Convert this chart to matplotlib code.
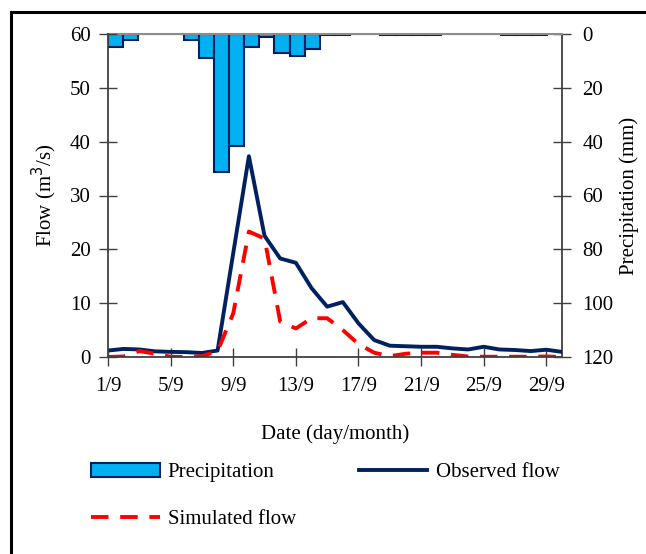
import numpy as np
import matplotlib.pyplot as plt
from matplotlib.patches import Rectangle

plt.rcParams['font.family'] = ['Liberation Serif', 'DejaVu Serif']

days = np.arange(1, 31)
tick_days = [1, 5, 9, 13, 17, 21, 25, 29]
tick_labels = ['1/9', '5/9', '9/9', '13/9', '17/9', '21/9', '25/9', '29/9']

precip = [4.7, 2.2, 0, 0, 0, 2.2, 8.8, 51.2, 41.5, 4.8,
          1.0, 7.2, 8.1, 5.7, 0.5, 0.3, 0, 0, 0.5, 0.2,
          0.5, 0.3, 0, 0, 0, 0, 0.2, 0.4, 0.3, 0]
observed = [1.2, 1.5, 1.4, 1.05, 0.95, 0.9, 0.75, 1.2, 19.3, 37.3,
            22.5, 18.3, 17.5, 12.8, 9.35, 10.2, 6.25, 3.15, 2.1, 2.0,
            1.9, 1.9, 1.6, 1.4, 1.9, 1.4, 1.3, 1.1, 1.35, 0.95]
simulated = [0.0, 0.1, 1.1, 0.6, 0.05, 0.0, 0.15, 1.1, 8.1, 23.3,
             22.0, 6.6, 5.3, 7.2, 7.2, 5.0, 2.4, 0.8, 0.15, 0.6,
             0.8, 0.8, 0.4, 0.1, 0.05, 0.05, 0.05, 0.05, 0.1, 0.0]

W, H = 646, 554
fig = plt.figure(figsize=(W / 100, H / 100), dpi=100)

# outer frame (clipped on right and bottom like the source)
fig.patches.append(Rectangle((11 / W, -0.05), 1.0, 1 - 12 / H + 0.05,
                             transform=fig.transFigure, fill=False,
                             edgecolor='black', lw=2.2))

pos = [108 / W, 1 - 357 / H, (562 - 108) / W, (357 - 34) / H]
spine_col = '#404040'

# precipitation bars on their own axes (right scale, inverted)
axb = fig.add_axes(pos)
bars = axb.bar(days - 1, precip, width=1, align='edge', color='#00B0F0',
               edgecolor='#002060', linewidth=1.5, label='Precipitation')
axb.set_xlim(0, 30)
axb.set_ylim(120, 0)
axb.set_yticks(np.arange(0, 121, 20))
axb.yaxis.tick_right()
axb.yaxis.set_label_position('right')
axb.set_xticks([])
axb.set_ylabel('Precipitation (mm)', fontsize=15, labelpad=4)
axb.tick_params(axis='y', direction='inout', length=13, width=1,
                color=spine_col, labelsize=15, pad=8)
for s in ['left', 'bottom']:
    axb.spines[s].set_visible(False)
axb.spines['right'].set_color(spine_col)
axb.spines['right'].set_linewidth(1.3)
axb.spines['top'].set_color('#8c8c8c')
axb.spines['top'].set_linewidth(1.5)

# flow lines
ax = fig.add_axes(pos)
ax.patch.set_visible(False)
l_obs, = ax.plot(days, observed, color='#002060', lw=2.8, label='Observed flow',
                 solid_joinstyle='round')
l_sim, = ax.plot(days, simulated, color='#FF0000', lw=2.8, dashes=(4.5, 3),
                 label='Simulated flow')
ax.set_xlim(1, 30)
ax.set_ylim(0, 60)
ax.set_yticks(np.arange(0, 61, 10))
ax.set_xticks(tick_days)
ax.set_xticklabels(tick_labels)
ax.tick_params(direction='inout', length=13, width=1, color=spine_col,
               labelsize=15)
ax.tick_params(axis='x', pad=8)
ax.tick_params(axis='y', pad=6)
for s in ['top', 'right']:
    ax.spines[s].set_visible(False)
for s in ['left', 'bottom']:
    ax.spines[s].set_color(spine_col)
    ax.spines[s].set_linewidth(1.3)
ax.set_ylabel('Flow (m$^3$/s)', fontsize=15, labelpad=8)
ax.set_xlabel('Date (day/month)', fontsize=15, labelpad=20)

fig.legend([bars, l_sim, l_obs], ['Precipitation', 'Simulated flow', 'Observed flow'],
           ncol=2, loc='upper left', bbox_to_anchor=(72 / W, 1 - 444 / H),
           frameon=False, fontsize=15, handlelength=3.3, handleheight=0.7,
           handletextpad=0.4, columnspacing=3.0, labelspacing=1.3)

fig.savefig('out.png', dpi=100)
